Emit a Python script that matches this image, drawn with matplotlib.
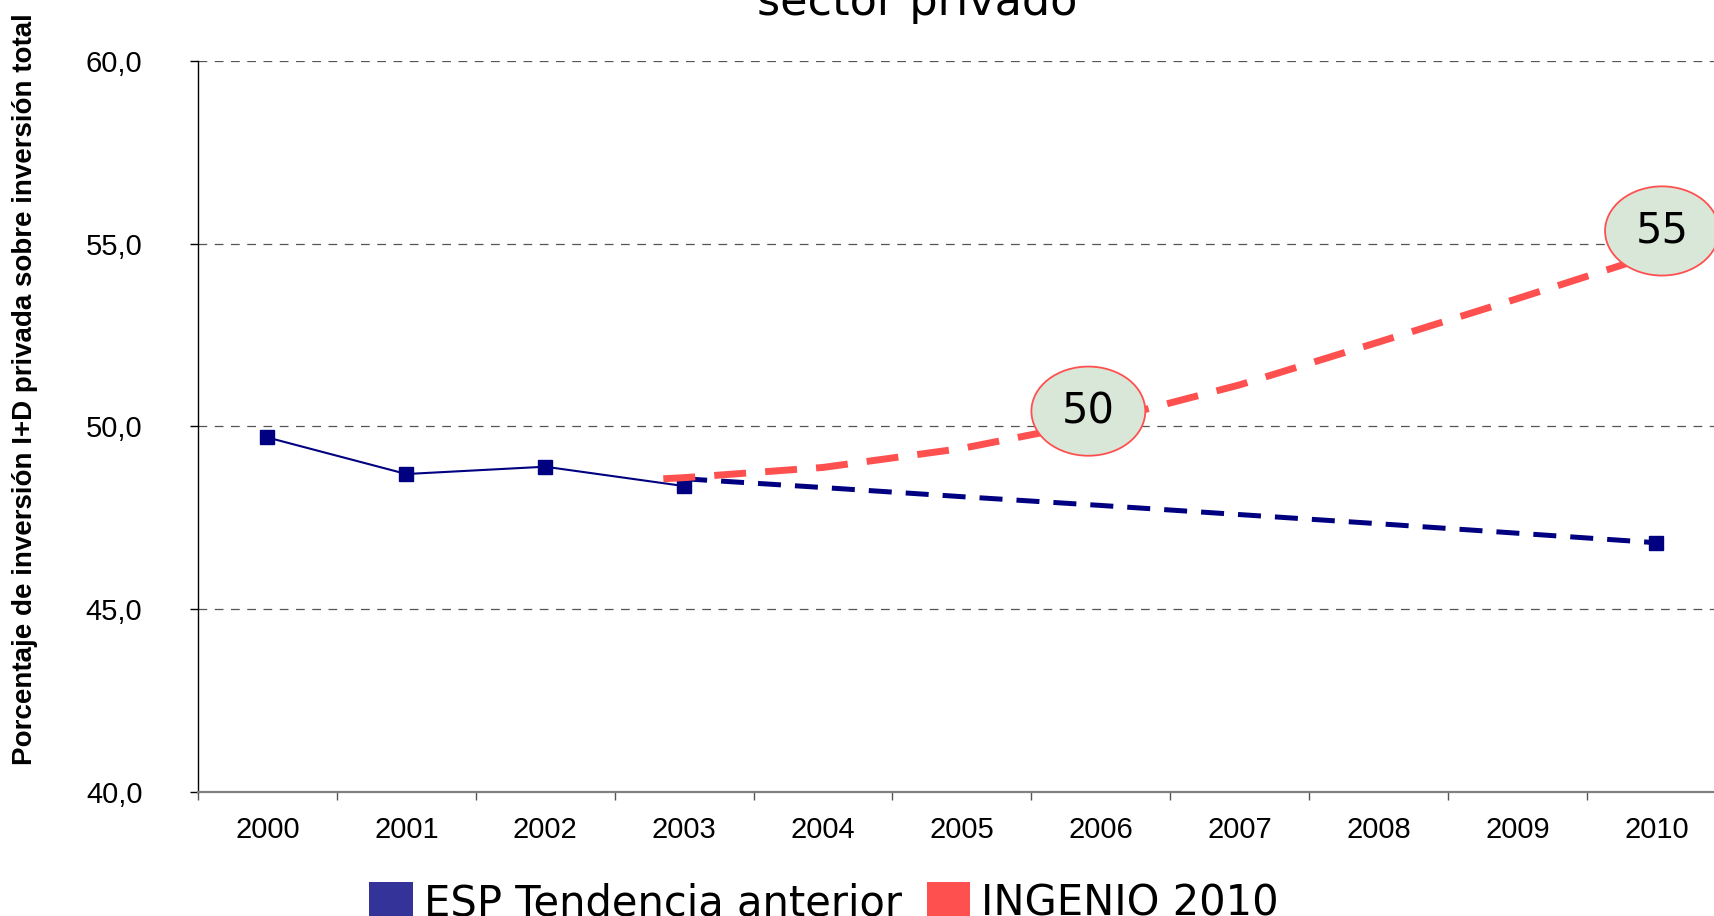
import matplotlib
matplotlib.use("Agg")
import matplotlib.pyplot as plt
from matplotlib.patches import Ellipse, Patch
from matplotlib.ticker import FixedLocator, FuncFormatter

W, H = 1715, 916

years = ['2000', '2001', '2002', '2003', '2004', '2005',
         '2006', '2007', '2008', '2009', '2010']

# observed values 2000-2003
hist_idx = [0, 1, 2, 3]
hist_vals = [49.7, 48.7, 48.9, 48.37]

# previous trend 2003-2010
trend_idx = [3, 4, 5, 6, 7, 8, 9, 10]
trend_vals = [48.57, 48.33, 48.08, 47.84, 47.59, 47.34, 47.08, 46.82]
trend_end = 46.8

# INGENIO 2010 target path
ingenio_idx = [2.85, 3, 4, 5, 6, 7, 8, 9, 10]
ingenio_vals = [48.57, 48.6, 48.88, 49.4, 50.15, 51.14, 52.31, 53.5, 54.72]

# bubble callouts
bubble_text = ['50', '55']
bubble_x = [5.91, 10.04]
bubble_y = [50.42, 55.35]

yticks = [40, 45, 50, 55, 60]

NAVY = '#000080'
RED = '#ff5050'
LEG_BLUE = '#333399'
BUBBLE = '#d9e7d8'

fig = plt.figure(figsize=(W / 100, H / 100), dpi=100)
fig.patch.set_facecolor('white')

# axes box in pixels: left 198, cat width 138.9, y60 at 61, y40 at 792
left = 198 / W
width = 11 * 138.9 / W
bottom = (H - 792) / H
height = (792 - 61) / H
ax = fig.add_axes([left, bottom, width, height])

ax.set_xlim(-0.5, 10.5)
ax.set_ylim(40, 60)

for y in yticks[1:]:
    ax.axhline(y, color='#555555', lw=0.9, ls=(0, (7, 6)), zorder=1)

ax.plot(hist_idx, hist_vals, color=NAVY, lw=1.5, marker='s', ms=10,
        zorder=3)
ax.plot(trend_idx, trend_vals, color=NAVY, lw=3.6, ls=(0, (4.6, 2.8)),
        dash_capstyle='butt', zorder=3)
ax.plot([trend_idx[-1]], [trend_end], color=NAVY, marker='s', ms=10,
        ls='none', zorder=3)
ax.plot(ingenio_idx, ingenio_vals, color=RED, lw=5, ls=(0, (4.6, 2.75)),
        dash_capstyle='butt', zorder=4)

for txt, bx, by in zip(bubble_text, bubble_x, bubble_y):
    e = Ellipse((bx, by), width=0.82, height=2.44, facecolor=BUBBLE,
                edgecolor=RED, lw=1.3, zorder=5)
    ax.add_patch(e)
    ax.text(bx, by, txt, ha='center', va='center', fontsize=30,
            family='DejaVu Sans', color='black', zorder=6)

# axes styling
for s in ['top', 'right']:
    ax.spines[s].set_visible(False)
ax.spines['left'].set_color('black')
ax.spines['left'].set_linewidth(1.0)
ax.spines['bottom'].set_color('#808080')
ax.spines['bottom'].set_linewidth(1.6)

ax.yaxis.set_major_locator(FixedLocator(yticks))
ax.yaxis.set_major_formatter(FuncFormatter(lambda v, p: f'{v:.1f}'.replace('.', ',')))
ax.tick_params(axis='y', direction='out', length=6, width=1, color='black',
               pad=34, labelsize=21)

ax.set_xticks(range(len(years)))
ax.set_xticklabels(years)
ax.set_xticks([i - 0.5 for i in range(len(years) + 1)], minor=True)
ax.tick_params(axis='x', which='major', length=0, pad=17, labelsize=21)
ax.tick_params(axis='x', which='minor', direction='out', length=6,
               width=1, color='#555555')
for lab in ax.get_xticklabels() + ax.get_yticklabels():
    lab.set_family('Liberation Sans')

fig.text(25 / W, 1 - 389 / H,
         'Porcentaje de inversión I+D privada sobre inversión total',
         rotation=90, ha='center', va='center', fontsize=20,
         fontweight='bold', family='Liberation Sans')

fig.text(917 / W, 1 - 15 / H, 'sector privado', ha='center',
         va='baseline', fontsize=32, family='DejaVu Sans')

handles = [Patch(facecolor=LEG_BLUE, edgecolor='none'),
           Patch(facecolor=RED, edgecolor='none')]
fig.legend(handles, ['ESP Tendencia anterior', 'INGENIO 2010'],
           loc='upper left', bbox_to_anchor=(369 / W, 1 - 882 / H),
           ncol=2, frameon=False, borderpad=0, borderaxespad=0,
           handlelength=1.05, handleheight=1.05, handletextpad=0.26,
           columnspacing=0.6, prop={'family': 'DejaVu Sans', 'size': 30})

fig.savefig('out.png', dpi=100, facecolor='white')
